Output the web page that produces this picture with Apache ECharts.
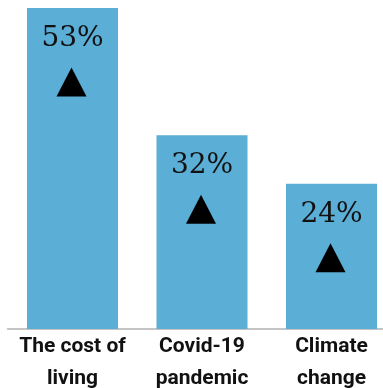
<!DOCTYPE html>
<html>
<head>
<meta charset="utf-8">
<script src="https://cdn.jsdelivr.net/npm/echarts@6/dist/echarts.min.js"></script>
<style>
  html, body { margin: 0; padding: 0; background: #fff; }
  #chart { width: 383px; height: 388px; }
</style>
</head>
<body>
<div id="chart"></div>
<script>
// categories and shares (%)
let categories = ['The cost of\nliving', 'Covid-19\npandemic', 'Climate\nchange'];
let shares = [53, 32, 24];

let myChart = echarts.init(document.getElementById('chart'));

let option = {
    animation: false,
    grid: {
        left: 7.75,
        width: 388.5,
        top: 8,
        height: 321,
        containLabel: false,
        outerBoundsMode: 'none'
    },
    xAxis: {
        type: 'category',
        data: categories,
        axisLine: { lineStyle: { color: '#c4c4c4', width: 2 } },
        axisTick: { show: false },
        axisLabel: {
            interval: 0,
            color: '#111',
            fontFamily: 'Roboto',
            fontWeight: 'bold',
            fontSize: 21,
            lineHeight: 32,
            margin: 2
        }
    },
    yAxis: {
        type: 'value',
        min: 0,
        max: 53,
        show: false
    },
    series: [
        {
            type: 'bar',
            data: shares,
            barWidth: 91,
            itemStyle: { color: '#5baed6' },
            label: {
                show: true,
                position: 'insideTop',
                distance: 17,
                formatter: '{c}%',
                color: '#111',
                fontFamily: 'DejaVu Serif',
                fontSize: 28
            }
        },
        {
            // up-arrow triangles sitting inside each bar
            type: 'scatter',
            data: shares,
            symbol: 'triangle',
            symbolSize: [30, 29],
            symbolOffset: [-1, 74],
            itemStyle: { color: '#000', opacity: 1 },
            z: 3
        }
    ]
};
myChart.setOption(option);
</script>
</body>
</html>
